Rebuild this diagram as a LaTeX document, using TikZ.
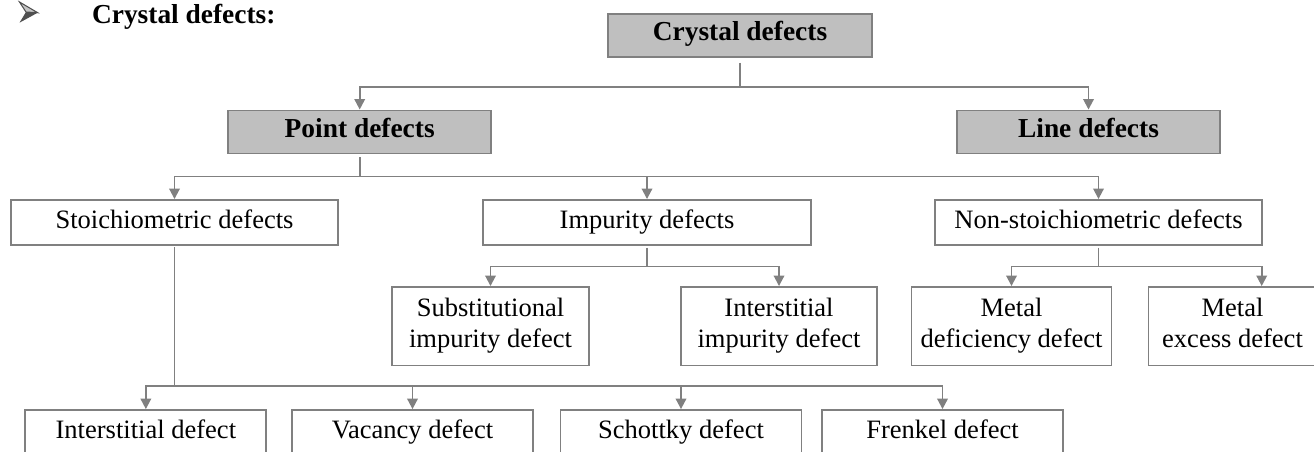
\documentclass[tikz,border=0pt]{standalone}
\usepackage{fontspec}
\setmainfont{Liberation Serif}
\usetikzlibrary{arrows.meta, positioning}
\definecolor{linegray}{RGB}{128,128,128}
\definecolor{boxgray}{RGB}{191,191,191}
\definecolor{bulletgray}{RGB}{80,80,80}

\begin{document}
\begin{tikzpicture}[
        mainbox/.style={rectangle, draw=linegray, line width=1.1pt, fill=boxgray, minimum width=5.27cm, minimum height=0.86cm, inner sep=0pt, font=\fontsize{15.6}{18}\selectfont\bfseries, text height=0.84em, text depth=0.2em},
        plainbox/.style={rectangle, draw=linegray, line width=1.1pt, fill=white, minimum height=0.9cm, inner sep=0pt, font=\fontsize{15.1}{18}\selectfont, text height=0.83em, text depth=0.2em},
        twobox/.style={rectangle, draw=linegray, line width=1.1pt, fill=white, minimum height=1.57cm, inner sep=0pt, align=center, font=\fontsize{15.1}{18}\selectfont, execute at begin node={\rule{0pt}{0.92em}}, execute at end node={\rule[-0.25em]{0pt}{0pt}}},
        arrow/.style={-{Triangle[width=6pt,length=6pt]}, draw=linegray, line width=1.1pt}
    ]
        \useasboundingbox (0,0) rectangle (26.28,-9.02);
        \clip (0,0) rectangle (26.28,-9.02);

        % Heading
        \filldraw[fill=gray!45, draw=bulletgray, line width=0.6pt] (0.39,-0.04) -- (0.754,-0.254) -- (0.52,-0.24) -- cycle;
        \fill[bulletgray] (0.52,-0.24) -- (0.754,-0.254) -- (0.39,-0.454) -- cycle;
        \node[anchor=base west, inner sep=0pt, font=\fontsize{15.6}{18}\selectfont\bfseries] (title) at (1.834,-0.47) {Crystal defects:};

        % Top levels
        \node[mainbox] (crystal) at (14.8,-0.706) {Crystal defects};
        \node[mainbox] (point) at (7.194,-2.64) {Point defects};
        \node[mainbox] (line) at (21.77,-2.64) {Line defects};

        % Point defect types
        \node[plainbox, minimum width=6.53cm] (stoich) at (3.49,-4.45) {Stoichiometric defects};
        \node[plainbox, minimum width=6.55cm] (impurity) at (12.94,-4.45) {Impurity defects};
        \node[plainbox, minimum width=6.53cm] (nonstoich) at (21.97,-4.45) {Non-stoichiometric defects};

        % Impurity and non-stoichiometric sub types
        \node[twobox, minimum width=3.95cm] (subst) at (9.81,-6.525) {Substitutional\\impurity defect};
        \node[twobox, minimum width=3.93cm] (interimp) at (15.58,-6.525) {Interstitial\\impurity defect};
        \node[twobox, minimum width=4cm] (metaldef) at (20.23,-6.525) {Metal\\deficiency defect};
        \node[twobox, minimum width=3.36cm] (metalex) at (24.65,-6.525) {Metal\\excess defect};

        % Stoichiometric sub types
        \node[plainbox, minimum width=4.82cm, minimum height=0.93cm] (interstitial) at (2.917,-8.666) {Interstitial defect};
        \node[plainbox, minimum width=4.82cm, minimum height=0.93cm] (vacancy) at (8.25,-8.666) {Vacancy defect};
        \node[plainbox, minimum width=4.82cm, minimum height=0.93cm] (schottky) at (13.62,-8.666) {Schottky defect};
        \node[plainbox, minimum width=4.82cm, minimum height=0.93cm] (frenkel) at (18.85,-8.666) {Frenkel defect};

        % Arrows from crystal defects
        \draw[arrow] ([yshift=-0.1cm]crystal.south) -- ++(0,-0.48) -| (point.north);
        \draw[arrow] ([yshift=-0.1cm]crystal.south) -- ++(0,-0.48) -| (line.north);

        % Arrows from point defects
        \draw[arrow] ([yshift=-0.06cm]point.south) -- ++(0,-0.38) -| (stoich.north);
        \draw[arrow] ([yshift=-0.06cm]point.south) -- ++(0,-0.38) -| (impurity.north);
        \draw[arrow] ([yshift=-0.06cm]point.south) -- ++(0,-0.38) -| (nonstoich.north);

        % Arrows from impurity defects
        \draw[arrow] ([yshift=-0.04cm]impurity.south) -- ++(0,-0.37) -| (subst.north);
        \draw[arrow] ([yshift=-0.04cm]impurity.south) -- ++(0,-0.37) -| (interimp.north);

        % Arrows from non-stoichiometric defects
        \draw[arrow] ([yshift=-0.04cm]nonstoich.south) -- ++(0,-0.37) -| (metaldef.north);
        \draw[arrow] ([yshift=-0.04cm]nonstoich.south) -- ++(0,-0.37) -| ([xshift=0.584cm]metalex.north);

        % Arrows from stoichiometric defects
        \draw[arrow] ([yshift=-0.03cm]stoich.south) -- ++(0,-2.77) -| (interstitial.north);
        \draw[arrow] ([yshift=-0.03cm]stoich.south) -- ++(0,-2.77) -| (vacancy.north);
        \draw[arrow] ([yshift=-0.03cm]stoich.south) -- ++(0,-2.77) -| (schottky.north);
        \draw[arrow] ([yshift=-0.03cm]stoich.south) -- ++(0,-2.77) -| (frenkel.north);
    \end{tikzpicture}
\end{document}
